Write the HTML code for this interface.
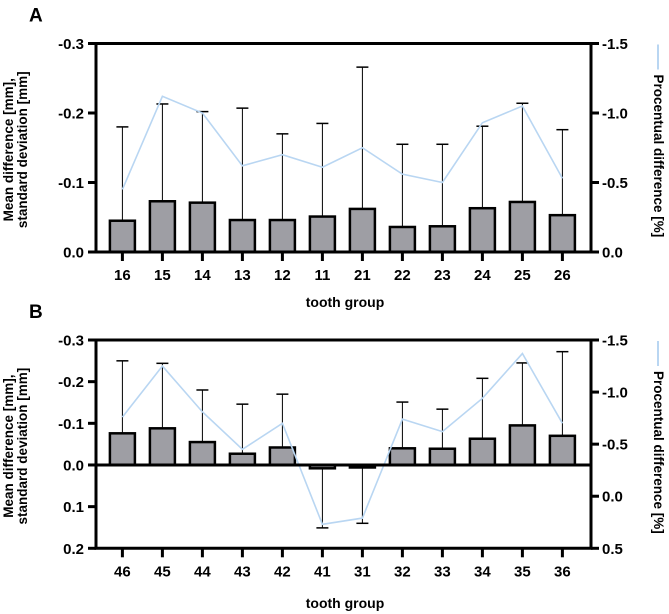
<!DOCTYPE html>
<html><head><meta charset="utf-8"><style>
body{margin:0;background:#fff;}
svg{display:block;font-family:"Liberation Sans",Arial,sans-serif;font-weight:bold;}
</style></head><body>
<svg id="chart" width="669" height="614" xmlns="http://www.w3.org/2000/svg"></svg>
<script>
const catsA=["16","15","14","13","12","11","21","22","23","24","25","26"];
const meanA=[-0.045,-0.073,-0.071,-0.046,-0.046,-0.051,-0.062,-0.036,-0.037,-0.063,-0.072,-0.053];
const errA=[-0.180,-0.213,-0.202,-0.207,-0.170,-0.185,-0.266,-0.155,-0.155,-0.181,-0.214,-0.176];
const pctA=[-0.45,-1.12,-1.0,-0.62,-0.70,-0.61,-0.75,-0.56,-0.50,-0.93,-1.05,-0.53];
const leftTicksA=[-0.3,-0.2,-0.1,0.0];
const rightTicksA=[-1.5,-1.0,-0.5,0.0];
const catsB=["46","45","44","43","42","41","31","32","33","34","35","36"];
const meanB=[-0.076,-0.088,-0.055,-0.027,-0.042,0.008,0.006,-0.040,-0.039,-0.063,-0.095,-0.070];
const errB=[-0.250,-0.244,-0.180,-0.146,-0.170,0.151,0.140,-0.151,-0.134,-0.208,-0.245,-0.272];
const pctB=[-0.76,-1.25,-0.81,-0.45,-0.70,0.27,0.21,-0.74,-0.62,-0.94,-1.37,-0.70];
const leftTicksB=[-0.3,-0.2,-0.1,0.0,0.1,0.2];
const rightTicksB=[-1.5,-1.0,-0.5,0.0,0.5];

const NS="http://www.w3.org/2000/svg";
const svg=document.getElementById('chart');
function mk(tag,attrs,parent,text){const e=document.createElementNS(NS,tag);for(const k in attrs)e.setAttribute(k,attrs[k]);if(text!==undefined)e.textContent=text;(parent||svg).appendChild(e);return e;}

function panel(p){
  const g=mk('g',{});
  
  
  const L=96,R=591;
  const yL=v=>p.top+(v-p.lmin)/(p.lmax-p.lmin)*(p.bot-p.top);
  const yR=v=>p.top+(v-p.rmin)/(p.rmax-p.rmin)*(p.bot-p.top);
  const x0=122.4,dx=40;
  const xC=i=>x0+i*dx;
  const zero=yL(0);
  const lt=mk('text',{x:29,y:p.top-22,'font-size':19,fill:'#000'},g,p.id);
  
  
  p.cats.forEach((c,i)=>{
    const x=xC(i);
    const eb=mk('g',{},g);
    
    
    mk('line',{x1:x,x2:x,y1:yL(p.mean[i]),y2:yL(p.err[i]),stroke:'#000','stroke-width':1},eb);
    mk('line',{x1:x-6,x2:x+6,y1:yL(p.err[i]),y2:yL(p.err[i]),stroke:'#000','stroke-width':1.5},eb);
  });
  p.cats.forEach((c,i)=>{
    const x=xC(i),y1=yL(p.mean[i]);
    const b=mk('rect',{x:x-12.5,y:Math.min(y1,zero),width:25,height:Math.max(Math.abs(zero-y1),1),fill:'#9e9ea4',stroke:'#000','stroke-width':2.5},g);
    
    
  });
  const pts=p.pct.map((v,i)=>xC(i)+','+yR(v)).join(' ');
  const pl=mk('polyline',{points:pts,fill:'none',stroke:'#b9d6f2','stroke-width':1.6},g);
  
  
  const ax=mk('g',{stroke:'#000','stroke-width':3},g);
  
  
  mk('line',{x1:L,x2:L,y1:p.top,y2:p.bot},ax);
  mk('line',{x1:R,x2:R,y1:p.top,y2:p.bot},ax);
  mk('line',{x1:L-1.5,x2:R+1.5,y1:p.top,y2:p.top},ax);
  mk('line',{x1:L-1.5,x2:R+1.5,y1:p.bot,y2:p.bot},ax);
  mk('line',{x1:L,x2:R,y1:zero,y2:zero},ax);
  p.lt.forEach(v=>{
    const y=yL(v);
    mk('line',{x1:L-8,x2:L,y1:y,y2:y},ax);
    const t=mk('text',{x:L-12,y:y+5.5,'text-anchor':'end','font-size':15,fill:'#000',stroke:'none'},g,v.toFixed(1));
    
    
  });
  p.rt.forEach(v=>{
    const y=yR(v);
    mk('line',{x1:R,x2:R+8,y1:y,y2:y},ax);
    const t=mk('text',{x:R+11,y:y+5.5,'font-size':15,fill:'#000',stroke:'none'},g,v.toFixed(1));
    
    
  });
  p.cats.forEach((c,i)=>{
    const x=xC(i);
    mk('line',{x1:x,x2:x,y1:p.bot,y2:p.bot+9},ax);
    const t=mk('text',{x:x,y:p.bot+28,'text-anchor':'middle','font-size':15,fill:'#000',stroke:'none'},g,c);
    
    
  });
  const xt=mk('text',{x:345,y:p.xtY,'text-anchor':'middle','font-size':14,fill:'#000'},g,'tooth group');
  
  
  const yc=(p.top+p.bot)/2+2;
  const yt=mk('text',{transform:`translate(13,${yc}) rotate(-90)`,'text-anchor':'middle','font-size':13.5,fill:'#000'},g);
  
  
  mk('tspan',{x:0,y:0},yt,'Mean difference [mm],');
  mk('tspan',{x:0,y:14},yt,'standard deviation [mm]');
  const rt=mk('text',{transform:`translate(654,${p.top+31}) rotate(90)`,'font-size':13.5,fill:'#000'},g,'Procentual difference [%]');
  
  
  const lg=mk('line',{x1:658,x2:658,y1:p.top+1,y2:p.top+26,stroke:'#b9d6f2','stroke-width':2},g);
  
  
}
panel({id:'A',cats:catsA,mean:meanA,err:errA,pct:pctA,lt:leftTicksA,rt:rightTicksA,top:43.5,bot:252,lmin:-0.3,lmax:0,rmin:-1.5,rmax:0,xtY:307});
panel({id:'B',cats:catsB,mean:meanB,err:errB,pct:pctB,lt:leftTicksB,rt:rightTicksB,top:340,bot:548.3,lmin:-0.3,lmax:0.2,rmin:-1.5,rmax:0.5,xtY:608});
</script>
</body></html>
